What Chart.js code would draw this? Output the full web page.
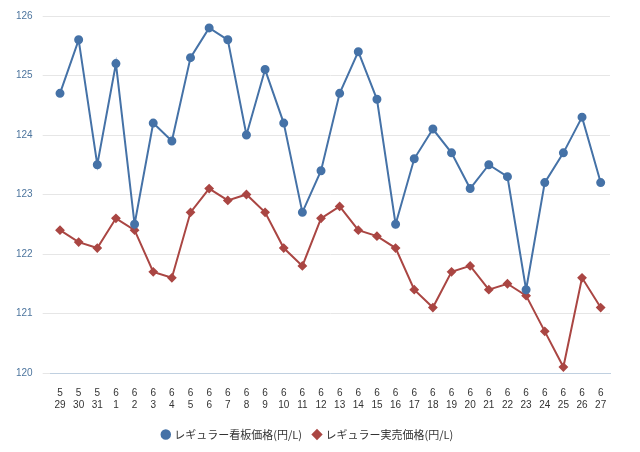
<!DOCTYPE html>
<html><head><meta charset="utf-8">
<script src="https://cdn.jsdelivr.net/npm/chart.js@4"></script>
<style>body{margin:0;background:#fff}#wrap{width:640px;height:452px}</style>
</head><body><div id="wrap"><canvas id="c"></canvas></div>
<script>
const months = ["5","5","5","6","6","6","6","6","6","6","6","6","6","6","6","6","6","6","6","6","6","6","6","6","6","6","6","6","6","6"];
const days = ["29","30","31","1","2","3","4","5","6","7","8","9","10","11","12","13","14","15","16","17","18","19","20","21","22","23","24","25","26","27"];
const boardPrice = [124.7,125.6,123.5,125.2,122.5,124.2,123.9,125.3,125.8,125.6,124.0,125.1,124.2,122.7,123.4,124.7,125.4,124.6,122.5,123.6,124.1,123.7,123.1,123.5,123.3,121.4,123.2,123.7,124.3,123.2];
const salePrice = [122.4,122.2,122.1,122.6,122.4,121.7,121.6,122.7,123.1,122.9,123.0,122.7,122.1,121.8,122.6,122.8,122.4,122.3,122.1,121.4,121.1,121.7,121.8,121.4,121.5,121.3,120.7,120.1,121.6,121.1];
const labels = months.map((m, i) => [m, days[i]]);

new Chart(document.getElementById('c'), {
  type: 'line',
  data: {
    labels,
    datasets: [
      { label: 'レギュラー看板価格(円/L)', data: boardPrice, borderColor: '#4572a7', backgroundColor: '#4572a7',
        borderWidth: 2, pointRadius: 3.5, pointStyle: 'circle', tension: 0 },
      { label: 'レギュラー実売価格(円/L)', data: salePrice, borderColor: '#aa4643', backgroundColor: '#aa4643',
        borderWidth: 2, pointRadius: 3.5, pointStyle: 'rectRot', tension: 0 }
    ]
  },
  options: {
    responsive: true, maintainAspectRatio: false, animation: false,
    layout: { padding: { top: 4, right: 30, left: 6, bottom: 2 } },
    plugins: {
      legend: { position: 'bottom', labels: { usePointStyle: true, boxWidth: 6, boxHeight: 6, color: '#333',
        font: { family: 'Noto Sans CJK JP', size: 11 }, padding: 12 } },
      tooltip: { enabled: false }
    },
    scales: {
      x: { offset: true, grid: { display: false }, border: { color: '#c0d0e0' },
        ticks: { color: '#333', font: { size: 10 }, maxRotation: 0, autoSkip: false, padding: 6 } },
      y: { min: 120, max: 126, grid: { color: '#e6e6e6' }, border: { display: false },
        ticks: { stepSize: 1, color: '#4d759e', font: { size: 10 }, padding: 10 } }
    }
  }
});
</script></body></html>
